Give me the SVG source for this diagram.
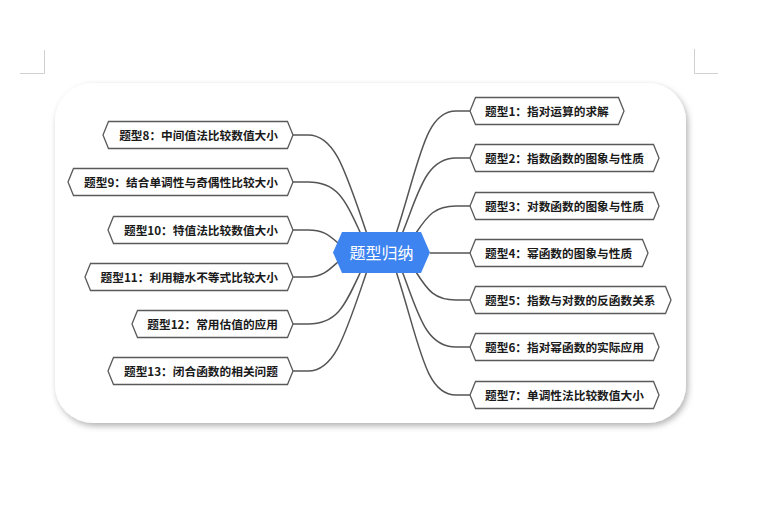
<svg xmlns="http://www.w3.org/2000/svg" width="757" height="514" viewBox="0 0 757 514">
<defs>
<filter id="sh" x="-10%" y="-10%" width="120%" height="130%">
<feDropShadow dx="2" dy="3" stdDeviation="3" flood-color="#000" flood-opacity="0.3"/>
</filter>
<style>
.mark{stroke:#d0d0d0;stroke-width:1;fill:none}
.box{fill:#fff;stroke:#5a5a5a;stroke-width:1.3}
.lbl{font-family:"Noto Sans CJK SC","Noto Sans",sans-serif;font-size:11.7px;font-weight:bold;fill:#1a1a1a}
.ctr{font-family:"Noto Sans CJK SC","Noto Sans",sans-serif;font-size:16px;fill:#fff}
.con path{fill:none;stroke:#555;stroke-width:1.5}
</style>
</defs>
<rect width="757" height="514" fill="#fff"/>
<path class="mark" d="M44.5 50 V73.5 H20"/>
<path class="mark" d="M694.5 49 V73.5 H718"/>
<rect x="55" y="83" width="631" height="340" rx="38" fill="#fff" filter="url(#sh)"/>
<g class="con">
<path d="M396 234 C420 160 425 111 456 111 H471"/>
<path d="M402 234 C418 195 425 158 456 158 H471"/>
<path d="M416 233 C428 215 435 206 456 206 H471"/>
<path d="M430 253 H471"/>
<path d="M416 272 C428 291 435 300 456 300 H471"/>
<path d="M402 271 C418 312 425 347 456 347 H471"/>
<path d="M396 271 C420 345 425 395 456 395 H471"/>
<path d="M367 234 C345 170 335 135 308 135 H292"/>
<path d="M361 234 C345 200 338 182 308 182 H292"/>
<path d="M338 243 C328 234 322 230 308 230 H292"/>
<path d="M338 262 C328 271 322 277 308 277 H292"/>
<path d="M361 271 C345 305 338 324 308 324 H292"/>
<path d="M367 271 C345 335 335 371 308 371 H292"/>
</g>
<g id="center">
<polygon points="333,252.5 342,232 421,232 430,252.5 421,273 342,273" fill="#3d84f0"/>
<text class="ctr" x="381.5" y="258.5" text-anchor="middle">题型归纳</text>
</g>
<g id="n1"><polygon class="box" points="470,111 475.5,97.5 618.5,97.5 624,111 618.5,124.5 475.5,124.5"/><text class="lbl" x="485" y="115.5">题型1：指对运算的求解</text></g>
<g id="n2"><polygon class="box" points="470,158 475.5,144.5 653.5,144.5 659,158 653.5,171.5 475.5,171.5"/><text class="lbl" x="485" y="162.5">题型2：指数函数的图象与性质</text></g>
<g id="n3"><polygon class="box" points="470,206 475.5,192.5 653.5,192.5 659,206 653.5,219.5 475.5,219.5"/><text class="lbl" x="485" y="210.5">题型3：对数函数的图象与性质</text></g>
<g id="n4"><polygon class="box" points="470,253 475.5,239.5 642.5,239.5 648,253 642.5,266.5 475.5,266.5"/><text class="lbl" x="485" y="257.5">题型4：幂函数的图象与性质</text></g>
<g id="n5"><polygon class="box" points="470,300 475.5,286.5 665.5,286.5 671,300 665.5,313.5 475.5,313.5"/><text class="lbl" x="485" y="304.5">题型5：指数与对数的反函数关系</text></g>
<g id="n6"><polygon class="box" points="470,347 475.5,333.5 653.5,333.5 659,347 653.5,360.5 475.5,360.5"/><text class="lbl" x="485" y="351.5">题型6：指对幂函数的实际应用</text></g>
<g id="n7"><polygon class="box" points="470,395 475.5,381.5 653.5,381.5 659,395 653.5,408.5 475.5,408.5"/><text class="lbl" x="485" y="399.5">题型7：单调性法比较数值大小</text></g>
<g id="n8"><polygon class="box" points="103,135 108.5,121.5 287.5,121.5 293,135 287.5,148.5 108.5,148.5"/><text class="lbl" x="278" y="139.5" text-anchor="end">题型8：中间值法比较数值大小</text></g>
<g id="n9"><polygon class="box" points="68,182 73.5,168.5 287.5,168.5 293,182 287.5,195.5 73.5,195.5"/><text class="lbl" x="278" y="186.5" text-anchor="end">题型9：结合单调性与奇偶性比较大小</text></g>
<g id="n10"><polygon class="box" points="108,230 113.5,216.5 287.5,216.5 293,230 287.5,243.5 113.5,243.5"/><text class="lbl" x="278" y="234.5" text-anchor="end">题型10：特值法比较数值大小</text></g>
<g id="n11"><polygon class="box" points="85,277 90.5,263.5 287.5,263.5 293,277 287.5,290.5 90.5,290.5"/><text class="lbl" x="278" y="281.5" text-anchor="end">题型11：利用糖水不等式比较大小</text></g>
<g id="n12"><polygon class="box" points="132,324 137.5,310.5 287.5,310.5 293,324 287.5,337.5 137.5,337.5"/><text class="lbl" x="278" y="328.5" text-anchor="end">题型12：常用估值的应用</text></g>
<g id="n13"><polygon class="box" points="108,371 113.5,357.5 287.5,357.5 293,371 287.5,384.5 113.5,384.5"/><text class="lbl" x="278" y="375.5" text-anchor="end">题型13：闭合函数的相关问题</text></g>
</svg>
